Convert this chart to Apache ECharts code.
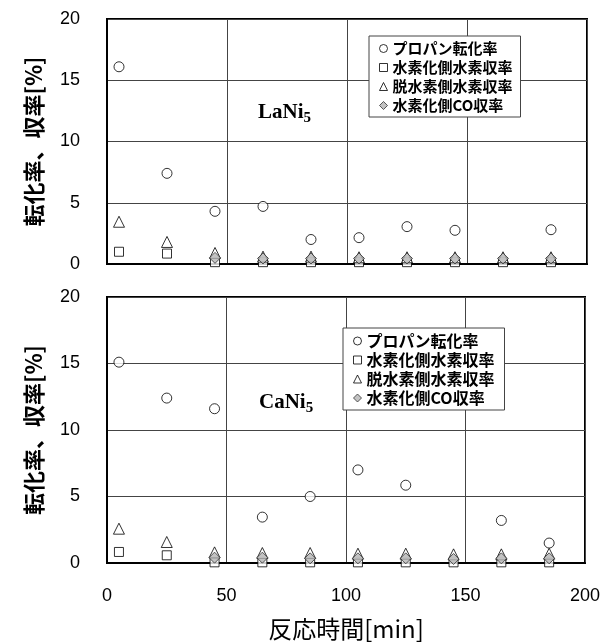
<!DOCTYPE html>
<html>
<head>
<meta charset="utf-8">
<script src="https://cdn.jsdelivr.net/npm/echarts@6/dist/echarts.min.js"></script>
<style>
    html, body { margin: 0; padding: 0; background: #fff; }
    #main { width: 613px; height: 642px; }
</style>
</head>
<body>
<div id="main"></div>
<script>
// 反応時間[min]
const times = [5, 25, 45, 65, 85, 105, 125, 145, 165, 185];
// 系列名
const seriesNames = ['プロパン転化率', '水素化側水素収率', '脱水素側水素収率', '水素化側CO収率'];
const yTicks = [0, 5, 10, 15, 20];
const xTicks = [0, 50, 100, 150, 200];

// LaNi5 (上段)
const laConv = [16.1, 7.4, 4.3, 4.7, 2.0, 2.15, 3.05, 2.75, null, 2.8];
const laH2Hyd = [1.0, 0.85, 0.15, 0.15, 0.15, 0.15, 0.15, 0.15, 0.15, 0.15];
const laH2Dehyd = [3.45, 1.8, 0.9, 0.6, 0.6, 0.55, 0.55, 0.55, 0.55, 0.55];
const laCO = [null, null, 0.5, 0.45, 0.45, 0.45, 0.45, 0.45, 0.45, 0.45];

// CaNi5 (下段)
const caConv = [15.1, 12.4, 11.6, 3.45, 5.0, 7.0, 5.85, null, 3.2, 1.5];
const caH2Hyd = [0.83, 0.58, 0.05, 0.05, 0.05, 0.05, 0.05, 0.05, 0.05, 0.05];
const caH2Dehyd = [2.58, 1.58, 0.8, 0.75, 0.75, 0.7, 0.7, 0.65, 0.65, 0.7];
const caCO = [null, null, 0.4, 0.4, 0.35, 0.35, 0.35, 0.3, 0.35, 0.35];

const cjkFont = '"Noto Sans CJK JP", sans-serif';
const numFont = '"Liberation Sans", Arial, sans-serif';

// 系列の見た目
const markStyles = [
    { symbol: 'circle', symbolSize: 10, itemStyle: { color: '#fff', borderColor: '#000', borderWidth: 1 } },
    { symbol: 'rect', symbolSize: 9, itemStyle: { color: '#fff', borderColor: '#000', borderWidth: 1 } },
    { symbol: 'triangle', symbolSize: 11, itemStyle: { color: '#fff', borderColor: '#000', borderWidth: 1 } },
    { symbol: 'diamond', symbolSize: 11, itemStyle: { color: '#b4b4b4', borderColor: '#333', borderWidth: 1 } }
];

function pairs(values) {
    return times.map(function(t, i) {
        return values[i] == null ? null : [t, values[i]];
    }).filter(function(p) { return p; });
}

function makeSeries(lists, gridIndex) {
    return lists.map(function(values, i) {
        return Object.assign({
            name: seriesNames[i],
            type: 'scatter',
            xAxisIndex: gridIndex,
            yAxisIndex: gridIndex,
            data: pairs(values),
            z: 2 + i
        }, markStyles[i]);
    });
}

function makeXAxis(gridIndex, showLabel) {
    return {
        type: 'value',
        gridIndex: gridIndex,
        min: xTicks[0],
        max: xTicks[xTicks.length - 1],
        interval: xTicks[1] - xTicks[0],
        axisLine: { show: true, lineStyle: { color: '#000', width: 2 } },
        axisTick: { show: false },
        axisLabel: { show: showLabel, fontSize: 18, color: '#000', fontFamily: numFont, margin: 24 },
        splitLine: { show: true, lineStyle: { color: '#444', width: 1 } },
        name: showLabel ? '反応時間[min]' : '',
        nameLocation: 'middle',
        nameGap: 54,
        nameTextStyle: { fontSize: 24, color: '#000', fontFamily: cjkFont }
    };
}

function makeYAxis(gridIndex) {
    return {
        type: 'value',
        gridIndex: gridIndex,
        min: yTicks[0],
        max: yTicks[yTicks.length - 1],
        interval: yTicks[1] - yTicks[0],
        axisLine: { show: true, lineStyle: { color: '#000', width: 2 } },
        axisTick: { show: false },
        axisLabel: { fontSize: 18, color: '#000', fontFamily: numFont, margin: 27 },
        splitLine: { show: true, lineStyle: { color: '#444', width: 1 } },
        name: '転化率、収率[%]',
        nameLocation: 'middle',
        nameRotate: 90,
        nameGap: 62,
        nameTextStyle: { fontSize: 22, fontWeight: 'bold', color: '#000', fontFamily: cjkFont }
    };
}

// 凡例のアイコンは系列と同じ形・色で小さめに
function legendItems() {
    return seriesNames.map(function(name, i) {
        return {
            name: name,
            icon: markStyles[i].symbol,
            itemStyle: Object.assign({}, markStyles[i].itemStyle)
        };
    });
}

function makeLegend(left, top, fontSize, padding, gap) {
    return {
        data: legendItems(),
        orient: 'vertical',
        left: left,
        top: top,
        itemWidth: 8,
        itemHeight: 8,
        itemGap: gap,
        padding: padding,
        selectedMode: false,
        backgroundColor: '#fff',
        borderColor: '#444',
        borderWidth: 1,
        borderRadius: 0,
        textStyle: { fontSize: fontSize, fontWeight: 'bold', color: '#000', fontFamily: cjkFont, padding: [0, 0, 0, 0] }
    };
}

// 合金名 (下付き文字は測って並べる)
const measureCtx = document.createElement('canvas').getContext('2d');
function alloyLabel(base, x, y) {
    const font = 'bold 21px "Liberation Serif", "Times New Roman", serif';
    measureCtx.font = font;
    const w = measureCtx.measureText(base).width;
    return [
        { type: 'text', x: x, y: y, style: { text: base, font: font, fill: '#000', textAlign: 'left', textVerticalAlign: 'middle' } },
        { type: 'text', x: x + w, y: y + 5, style: { text: '5', font: 'bold 15px "Liberation Serif", serif', fill: '#000', textAlign: 'left', textVerticalAlign: 'middle' } }
    ];
}

const chart = echarts.init(document.getElementById('main'), null, { renderer: 'canvas' });

const option = {
    backgroundColor: '#fff',
    animation: false,
    grid: [
        { left: 107, top: 19, width: 480, height: 245, show: true, borderColor: '#000', borderWidth: 2, backgroundColor: 'transparent' },
        { left: 107, top: 297, width: 478, height: 266, show: true, borderColor: '#000', borderWidth: 2, backgroundColor: 'transparent' }
    ],
    xAxis: [makeXAxis(0, false), makeXAxis(1, true)],
    yAxis: [makeYAxis(0), makeYAxis(1)],
    legend: [
        makeLegend(369, 36, 15, [5, 8, 4, 10], 4),
        makeLegend(343, 328, 16, [5, 10, 4, 10], 3)
    ],
    graphic: alloyLabel('LaNi', 258, 113).concat(alloyLabel('CaNi', 259, 403)),
    series: makeSeries([laConv, laH2Hyd, laH2Dehyd, laCO], 0)
        .concat(makeSeries([caConv, caH2Hyd, caH2Dehyd, caCO], 1))
};

chart.setOption(option);
</script>
</body>
</html>
